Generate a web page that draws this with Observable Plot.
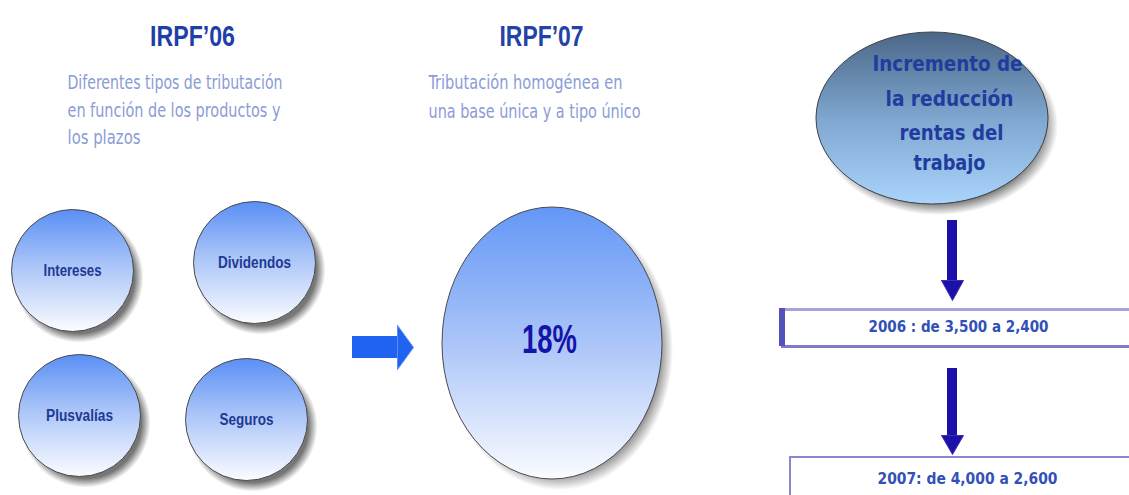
<!DOCTYPE html>
<html>
<head>
<meta charset="utf-8">
<script src="https://cdn.jsdelivr.net/npm/d3@7"></script>
<script src="https://cdn.jsdelivr.net/npm/@observablehq/plot@0.6"></script>
<style>
  html, body { margin: 0; padding: 0; background: #ffffff; }
  #chart svg { display: block; }
</style>
</head>
<body>
<div id="chart"></div>
<script>
// ---------- content ----------
const leftTitle = "IRPF’06";
const leftSubtitle = ["Diferentes tipos de tributación", "en función de los productos y", "los plazos"];
const rightTitle = "IRPF’07";
const rightSubtitle = ["Tributación homogénea en", "una base única y a tipo único"];
const productLabels = ["Intereses", "Dividendos", "Plusvalías", "Seguros"];
const unifiedRate = "18%";
const reductionLabel = ["Incremento de", "la reducción", "rentas del", "trabajo"];
const reductionSteps = ["2006 : de 3,500 a 2,400", "2007: de 4,000 a 2,600"];

// ---------- layout (diagram geometry, in pixels of the 1129×495 canvas) ----------
const W = 1129, H = 495;
const productX = [72, 254, 79, 246];
const productY = [270, 262, 415, 419];
const productR = 61;
const rateEllipse = {cx: 552, cy: 343, rx: 110, ry: 136};
const reductionEllipse = {cx: 932, cy: 118, rx: 116, ry: 86};
const leftSubY = [82, 110, 137];
const leftSubW = [215, 213, 73];
const rightSubY = [82, 111];
const rightSubW = [194, 212];
const productTextW = [58, 73, 67, 54];
const reductionTextX = [947, 949, 951, 949];
const reductionTextY = [63, 98, 132, 162];
const reductionTextW = [150, 128, 104, 72];
const stepTextX = [958, 967];
const stepTextY = [326, 478];
const blockArrowShaft = [{x1: 352, x2: 398, y1: 336, y2: 358}];
const blockArrowHead = [{x: 397, y: 325}, {x: 413, y: 347}, {x: 397, y: 369}, {x: 397, y: 325}];
const downShafts = [{x1: 947, x2: 957, y1: 220, y2: 281}, {x1: 947, x2: 957, y1: 368, y2: 436}];
const downHeads = [
  [{x: 941, y: 280}, {x: 963, y: 280}, {x: 952, y: 300}, {x: 941, y: 280}],
  [{x: 941, y: 435}, {x: 963, y: 435}, {x: 952, y: 454}, {x: 941, y: 435}]
];
const boxBorders = [
  {x1: 781, x2: 1129, y1: 308, y2: 311, c: "#a3a3da"},
  {x1: 781, x2: 1129, y1: 345, y2: 348, c: "#7b7bc8"},
  {x1: 779, x2: 785, y1: 308, y2: 346, c: "#5252b8"},
  {x1: 790, x2: 1129, y1: 456, y2: 458, c: "#8888d2"},
  {x1: 789, x2: 791, y1: 456, y2: 495, c: "#8888d2"}
];

// ---------- derived tables ----------
const products = productLabels.map((label, i) => ({label, x: productX[i], y: productY[i], w: productTextW[i]}));
const leftSub = leftSubtitle.map((t, i) => ({t, y: leftSubY[i], w: leftSubW[i]}));
const rightSub = rightSubtitle.map((t, i) => ({t, y: rightSubY[i], w: rightSubW[i]}));
const reduction = reductionLabel.map((t, i) => ({t, x: reductionTextX[i], y: reductionTextY[i], w: reductionTextW[i]}));
const steps = reductionSteps.map((t, i) => ({t, x: stepTextX[i], y: stepTextY[i], w: 180}));

const textWidths = new Map();
textWidths.set(leftTitle, 85);
textWidths.set(rightTitle, 84);
textWidths.set(unifiedRate, 55);
for (const d of [...products]) textWidths.set(d.label, d.w);
for (const d of [...leftSub, ...rightSub, ...reduction, ...steps]) textWidths.set(d.t, d.w);

// ---------- defs (gradients) ----------
const defsMark = () => {
  const defs = d3.create("svg:defs");
  const lin = (id, stops) => {
    const g = defs.append("linearGradient").attr("id", id)
      .attr("x1", 0).attr("y1", 0).attr("x2", 0).attr("y2", 1);
    stops.forEach(([o, c]) => g.append("stop").attr("offset", o).attr("stop-color", c));
  };
  lin("gBubble", [[0, "#5a8ff5"], [0.45, "#a9c4f8"], [1, "#fbfcff"]]);
  lin("gRate", [[0, "#6397f6"], [0.5, "#abc5f8"], [1, "#fafbff"]]);
  lin("gRed", [[0, "#4b6788"], [0.5, "#7ea6cf"], [1, "#aad4fc"]]);
  const r = defs.append("radialGradient").attr("id", "gShadow")
    .attr("cx", 0.5).attr("cy", 0.5).attr("r", 0.5);
  [[0, 0.9], [0.86, 0.85], [1, 0]].forEach(([o, a]) =>
    r.append("stop").attr("offset", o).attr("stop-color", "#5e5e5e").attr("stop-opacity", a));
  return defs.node();
};

const ellipseMark = (e, fill, stroke, dx = 0, dy = 0, grow = 0) => (index, scales) => {
  const cx = scales.x(e.cx) + dx, cy = scales.y(e.cy) + dy;
  const rx = Math.abs(scales.x(e.cx + e.rx) - scales.x(e.cx)) + grow;
  const ry = Math.abs(scales.y(e.cy + e.ry) - scales.y(e.cy)) + grow;
  const el = d3.create("svg:ellipse")
    .attr("cx", cx).attr("cy", cy).attr("rx", rx).attr("ry", ry)
    .attr("fill", fill);
  if (stroke) el.attr("stroke", stroke).attr("stroke-width", 1);
  return el.node();
};

const narrow = "'Liberation Sans Narrow', 'DejaVu Sans Condensed', 'Arial Narrow', sans-serif";
const arialish = "'Liberation Sans', Arial, sans-serif";
const round = "'DejaVu Sans', Verdana, sans-serif";

const chart = Plot.plot({
  width: W,
  height: H,
  margin: 0,
  x: {domain: [0, W], range: [0, W], axis: null},
  y: {domain: [0, H], range: [0, H], axis: null},
  style: {background: "#ffffff", overflow: "hidden"},
  marks: [
    defsMark,
    // titles
    Plot.text([leftTitle], {x: 192, y: 36, text: d => d, fontSize: 30, fontWeight: "bold", fontFamily: arialish, fill: "#1e3ea8"}),
    Plot.text([rightTitle], {x: 541, y: 36, text: d => d, fontSize: 30, fontWeight: "bold", fontFamily: arialish, fill: "#2443a6"}),
    Plot.text(leftSub, {x: 67, y: "y", text: "t", textAnchor: "start", fontSize: 19, fontFamily: narrow, fill: "#8a9cd6"}),
    Plot.text(rightSub, {x: 428, y: "y", text: "t", textAnchor: "start", fontSize: 19, fontFamily: narrow, fill: "#8a9cd6"}),
    // product circles
    Plot.dot(products, {x: "x", y: "y", r: productR + 4, dx: 6, dy: 7, fill: "url(#gShadow)"}),
    Plot.dot(products, {x: "x", y: "y", r: productR, fill: "url(#gBubble)", stroke: "#4a4a4a", strokeWidth: 1}),
    Plot.text(products, {x: "x", y: "y", text: "label", fontSize: 16, fontWeight: "bold", fontFamily: arialish, fill: "#1d3a94"}),
    // block arrow
    Plot.rect(blockArrowShaft, {x1: "x1", x2: "x2", y1: "y1", y2: "y2", fill: "#1f63f0"}),
    Plot.line(blockArrowHead, {x: "x", y: "y", fill: "#1f63f0", stroke: "#5b8cf5", strokeWidth: 1, curve: "linear"}),
    // unified rate ellipse
    ellipseMark(rateEllipse, "url(#gShadow)", null, 7, 7, 4),
    ellipseMark(rateEllipse, "url(#gRate)", "#4a4a4a"),
    Plot.text([unifiedRate], {x: rateEllipse.cx - 3, y: 340, text: d => d, fontSize: 40, fontWeight: "bold", fontFamily: arialish, fill: "#1414a6"}),
    // reduction ellipse
    ellipseMark(reductionEllipse, "url(#gShadow)", null, 6, 7, 4),
    ellipseMark(reductionEllipse, "url(#gRed)", "#3e3e3e"),
    Plot.text(reduction, {x: "x", y: "y", text: "t", fontSize: 22, fontWeight: "bold", fontFamily: round, fill: "#1f3c9e"}),
    // down arrows
    Plot.rect(downShafts, {x1: "x1", x2: "x2", y1: "y1", y2: "y2", fill: "#1c10a8"}),
    ...downHeads.map(h => Plot.line(h, {x: "x", y: "y", fill: "#1c10a8", stroke: "#3a30b8", strokeWidth: 1})),
    // boxes
    Plot.rect(boxBorders, {x1: "x1", x2: "x2", y1: "y1", y2: "y2", fill: "c"}),
    Plot.text(steps, {x: "x", y: "y", text: "t", fontSize: 16, fontWeight: "bold", fontFamily: round, fill: "#3251b6"})
  ]
});

chart.querySelectorAll("text").forEach(t => {
  const w = textWidths.get(t.textContent);
  if (w) {
    t.setAttribute("textLength", w);
    t.setAttribute("lengthAdjust", "spacingAndGlyphs");
  }
});

document.getElementById("chart").appendChild(chart);
</script>
</body>
</html>
